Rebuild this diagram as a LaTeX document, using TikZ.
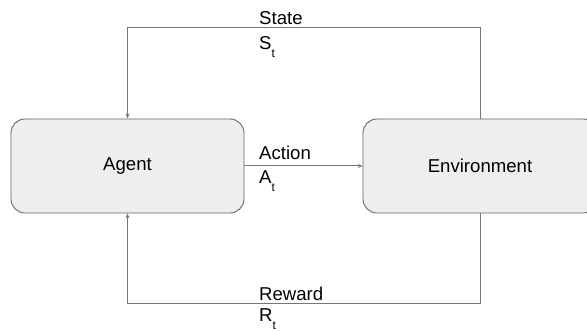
\documentclass[tikz,border=0pt]{standalone}
\usepackage{fontspec}
\setmainfont{Liberation Sans}
\usetikzlibrary{arrows.meta}
\definecolor{boxfill}{HTML}{EEEEEE}
\definecolor{boxline}{HTML}{666666}
\definecolor{wire}{HTML}{757575}
\newcommand{\lbl}[2]{#1\raisebox{-8pt}{\fontsize{12}{12}\selectfont #2}}
\tikzset{
  block/.style={draw=boxline, fill=boxfill, line width=0.9pt, rounded corners=14pt,
    minimum width=233pt, minimum height=94pt, inner sep=0pt,
    font=\fontsize{18.6}{22}\selectfont},
  wireline/.style={draw=wire, line width=1pt},
  arr/.style={wireline, -{Stealth[length=5pt,width=4pt]}},
  lab/.style={anchor=base west, inner sep=0pt, font=\fontsize{18.6}{22}\selectfont}
}
\begin{document}
\begin{tikzpicture}[x=1pt,y=-1pt]
\useasboundingbox (0,0) rectangle (587,331);
\clip (0,0) rectangle (587,331);
\node[block] (agent) at (127.5,166) {Agent};
\node[block, minimum width=234pt] (env) at (480,166) {Environment};
\coordinate (tr) at (480,28);
\coordinate (tl) at (127.5,28);
\coordinate (br) at (480,304);
\coordinate (bl) at (127.5,304);
\draw[arr] (env.north) -- (tr) -- (tl) -- (agent.north);
\draw[arr] (env.south) -- (br) -- (bl) -- (agent.south);
\draw[arr] (agent.east) -- (env.west);
\node[lab] (s1) at (259,25) {State};
\node[lab] (s2) at (259,50) {\lbl{S}{t}};
\node[lab] (a1) at (259,160) {Action};
\node[lab] (a2) at (259,184) {\lbl{A}{t}};
\node[lab] (r1) at (259,300.5) {Reward};
\node[lab] (r2) at (259,322) {\lbl{R}{t}};
\end{tikzpicture}
\end{document}
